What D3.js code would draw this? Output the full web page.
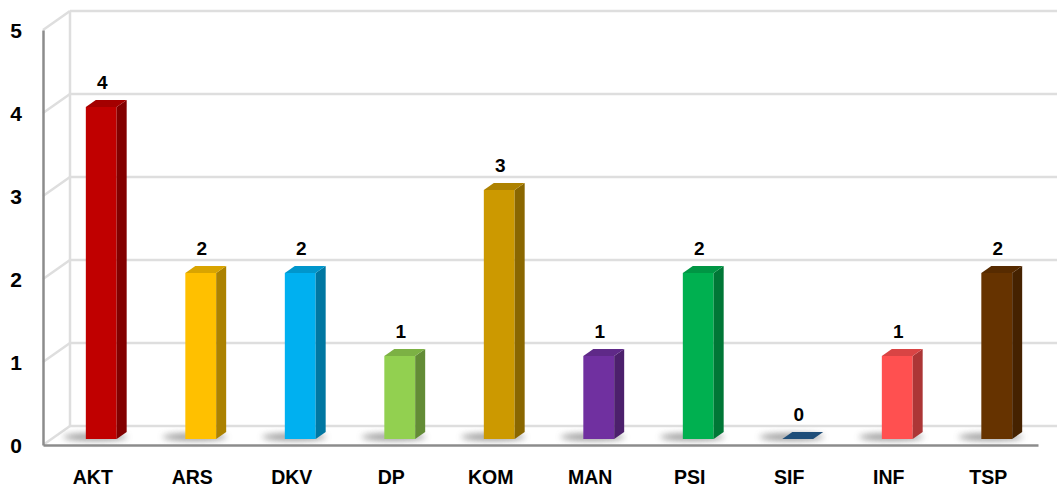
<!DOCTYPE html>
<html><head><meta charset="utf-8">
<script src="https://cdn.jsdelivr.net/npm/d3@7"></script>
<style>
body{margin:0;background:#fff;}
svg{display:block;font-family:"Liberation Sans",Arial,sans-serif;}
</style></head>
<body>
<svg id="c" width="1057" height="488"></svg>
<script>
const categories = ["AKT","ARS","DKV","DP","KOM","MAN","PSI","SIF","INF","TSP"];
const values = [4,2,2,1,3,1,2,0,1,2];
const colors = ["#C00000","#FFC000","#00B0F0","#92D050","#CC9900","#7030A0","#00B050","#1F4E79","#FF5050","#663300"];
const yTicks = [0,1,2,3,4,5];

const svg = d3.select("#c");
const X0 = 43, X1 = 1038, Y0 = 445, Y5 = 30;
const DX = 27, DY = -19;          // wall depth
const BOX = 8.5, BOY = -6;        // bar plane offset
const BDX = 10, BDY = -7;         // bar depth

const x = d3.scaleBand().domain(categories).range([X0, X1]).paddingInner(0.69).paddingOuter(0.345);
const xl = d3.scaleBand().domain(categories).range([X0, X1]);
const y = d3.scaleLinear().domain([0,5]).range([Y0, Y5]);

const defs = svg.append("defs");
const f = defs.append("filter").attr("id","blur").attr("x","-50%").attr("y","-100%").attr("width","200%").attr("height","300%");
f.append("feGaussianBlur").attr("stdDeviation","3");

const grid = "#dedede";
// back wall gridlines
svg.append("g").selectAll("line").data(yTicks).join("line")
  .attr("x1", X0+DX).attr("x2", 1060)
  .attr("y1", d=>y(d)+DY).attr("y2", d=>y(d)+DY)
  .attr("stroke", grid).attr("stroke-width", 2.5);
// side wall diagonals
svg.append("g").selectAll("line").data(yTicks).join("line")
  .attr("x1", X0).attr("x2", X0+DX)
  .attr("y1", d=>y(d)).attr("y2", d=>y(d)+DY)
  .attr("stroke", grid).attr("stroke-width", 2.5);
// back vertical
svg.append("line").attr("x1", X0+DX).attr("x2", X0+DX).attr("y1", y(5)+DY).attr("y2", y(0)+DY)
  .attr("stroke", grid).attr("stroke-width", 2.5);

// shadows
svg.append("g").selectAll("ellipse").data(categories).join("ellipse")
  .attr("cx", d=>x(d)+BOX+x.bandwidth()/2-6)
  .attr("cy", y(0)+BOY-2)
  .attr("rx", x.bandwidth()*1.05).attr("ry", 3.5)
  .attr("fill", "#6a6a6a").attr("opacity", 0.7).attr("filter","url(#blur)");

// bars
const bars = svg.append("g").selectAll("g").data(categories).join("g");
bars.each(function(d,i){
  const g = d3.select(this);
  const c = d3.color(colors[i]);
  const xl0 = x(d)+BOX, xr = xl0 + x.bandwidth();
  const yb = y(0)+BOY, yt = y(values[i])+BOY;
  if (values[i] > 0) {
    g.append("rect").attr("x", xl0).attr("y", yt).attr("width", x.bandwidth()).attr("height", yb-yt).attr("fill", c.formatHex());
    g.append("path").attr("d", `M${xr},${yt}L${xr+BDX},${yt+BDY}L${xr+BDX},${yb+BDY}L${xr},${yb}Z`).attr("fill", c.darker(1.1).formatHex());
  }
  g.append("path").attr("d", `M${xl0},${yt}L${xl0+BDX},${yt+BDY}L${xr+BDX},${yt+BDY}L${xr},${yt}Z`).attr("fill", values[i]>0 ? c.darker(0.45).formatHex() : c.formatHex());
  g.append("text").attr("x", xl0 + x.bandwidth()/2 + 1).attr("y", yt+BDY-11)
    .attr("text-anchor","middle").attr("font-weight","bold").attr("font-size", 19).attr("fill","#000")
    .text(values[i]);
});

// front axes
const yAxis = d3.axisLeft(y).tickValues(yTicks).tickSize(0).tickPadding(21).tickFormat(d3.format("d"));
const ga = svg.append("g").attr("transform", `translate(${X0},0)`).call(yAxis);
ga.select(".domain").attr("stroke","#8c8c8c").attr("stroke-width",2.5);
ga.selectAll("text").attr("font-size",21).attr("font-weight","bold").attr("fill","#000").attr("font-family","Liberation Sans, Arial, sans-serif").attr("dy","0.37em");

const xAxis = d3.axisBottom(xl).tickSize(0).tickPadding(25);
const gx = svg.append("g").attr("transform", `translate(0,${Y0})`).call(xAxis);
gx.select(".domain").attr("stroke","#8c8c8c").attr("stroke-width",2.5);
gx.selectAll("text").attr("font-size",19.5).attr("font-weight","bold").attr("fill","#000").attr("font-family","Liberation Sans, Arial, sans-serif");
</script>
</body></html>
